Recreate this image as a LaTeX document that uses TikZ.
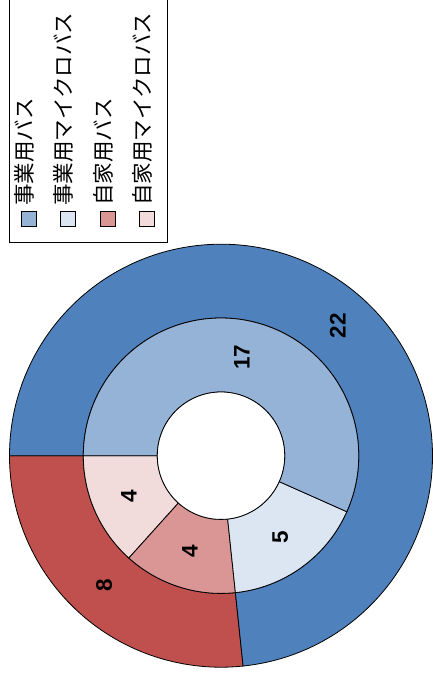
\documentclass[tikz,border=0pt]{standalone}
\usepackage{fontspec}
\setmainfont{Liberation Sans}
\newfontfamily\jp{Noto Sans CJK JP}
\definecolor{cBlue}{HTML}{4F81BD}
\definecolor{cBlueM}{HTML}{95B3D7}
\definecolor{cBlueL}{HTML}{DCE6F2}
\definecolor{cRed}{HTML}{C0504D}
\definecolor{cRedM}{HTML}{D99694}
\definecolor{cRedL}{HTML}{F2DCDB}
\tikzset{
  slice/.style={draw=black, line width=0.8pt},
  val/.style={font=\bfseries\fontsize{22.5}{22.5}\selectfont, rotate=90, inner sep=0pt},
  legtext/.style={font=\jp\fontsize{21.5}{21.5}\selectfont, rotate=90, anchor=west, inner sep=0pt},
  legsq/.style={draw=black, line width=0.8pt, minimum size=14.5pt, inner sep=0pt},
}
\newcommand{\ringslice}[5]{% color, a1, a2, r1, r2
  \fill[#1] ([shift={(221,-455.7)}]#2:#5) arc[start angle=#2, end angle=#3, radius=#5]
    -- ([shift={(221,-455.7)}]#3:#4) arc[start angle=#3, end angle=#2, radius=#4] -- cycle;
  \draw[slice] ([shift={(221,-455.7)}]#2:#5) arc[start angle=#2, end angle=#3, radius=#5]
    -- ([shift={(221,-455.7)}]#3:#4) arc[start angle=#3, end angle=#2, radius=#4] -- cycle;
}
\begin{document}
\begin{tikzpicture}[x=1pt,y=1pt]
\useasboundingbox (0,-680) rectangle (432,0);
\coordinate (c) at (221,-455.7);
% outer ring
\ringslice{cRed}{180}{276}{137.7}{211.5}
\ringslice{cBlue}{276}{540}{137.7}{211.5}
% inner ring
\ringslice{cRedL}{180}{228}{63.7}{137.7}
\ringslice{cRedM}{228}{276}{63.7}{137.7}
\ringslice{cBlueL}{276}{336}{63.7}{137.7}
\ringslice{cBlueM}{336}{540}{63.7}{137.7}
% hole
\draw[slice, fill=white] (c) circle[radius=63.7];
% value labels
\node[val] (v22) at ([shift={(c)}]48:174.6) {22};
\node[val] (v8) at ([shift={(c)}]228:174.6) {8};
\node[val] (v17) at ([shift={(c)}]78:100.7) {17};
\node[val] (v5) at ([shift={(c)}]306:100.7) {5};
\node[val] (v4a) at ([shift={(c)}]252:100.7) {4};
\node[val] (v4b) at ([shift={(c)}]204:100.7) {4};
% legend
\draw[line width=0.8pt] (9,3) -- (9,-242.5) -- (167,-242.5) -- (167,3);
\node[legsq, fill=cBlueM] (s1) at (29,-219) {};
\node[legsq, fill=cBlueL] (s2) at (68,-219) {};
\node[legsq, fill=cRedM] (s3) at (107.8,-219) {};
\node[legsq, fill=cRedL] (s4) at (147,-219) {};
\node[legtext] (t1) at (24.5,-206) {事業用バス};
\node[legtext] (t2) at (63.5,-206) {事業用マイクロバス};
\node[legtext] (t3) at (103,-206) {自家用バス};
\node[legtext] (t4) at (142.5,-206) {自家用マイクロバス};
\end{tikzpicture}
\end{document}
